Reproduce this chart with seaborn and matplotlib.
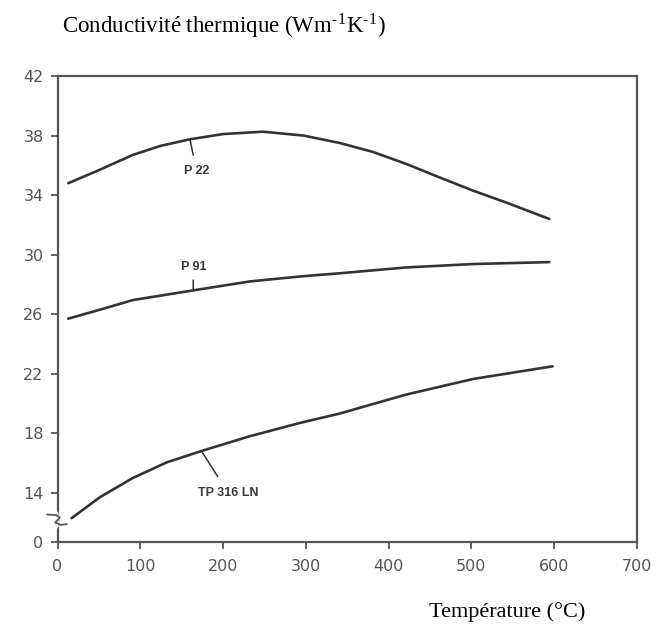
import numpy as np
import pandas as pd
import matplotlib
matplotlib.use("Agg")
import matplotlib.pyplot as plt
import matplotlib.transforms as mtransforms
import seaborn as sns

# ---- data ----
p22_T = [13, 51, 91, 124, 160, 200, 248, 297, 341, 381, 421, 461, 502, 542, 594]
p22_k = [34.8, 35.7, 36.7, 37.3, 37.75, 38.1, 38.26, 38.0, 37.5, 36.9, 36.1, 35.2, 34.3, 33.5, 32.4]

p91_T = [13, 51, 91, 164, 232, 296, 341, 421, 502, 594]
p91_k = [25.7, 26.3, 26.95, 27.6, 28.2, 28.55, 28.75, 29.14, 29.37, 29.5]

tp_T = [17, 51, 91, 132, 176, 232, 293, 341, 421, 502, 598]
tp_k = [12.3, 13.7, 15.0, 16.05, 16.85, 17.8, 18.7, 19.33, 20.6, 21.65, 22.5]

series_names = ["P 22", "P 91", "TP 316 LN"]

x_ticks = [0, 100, 200, 300, 400, 500, 600, 700]
y_ticks = [14, 18, 22, 26, 30, 34, 38, 42]
y_zero_label = "0"

df = pd.concat([
    pd.DataFrame({"T": p22_T, "k": p22_k, "mat": series_names[0]}),
    pd.DataFrame({"T": p91_T, "k": p91_k, "mat": series_names[1]}),
    pd.DataFrame({"T": tp_T, "k": tp_k, "mat": series_names[2]}),
])

# ---- layout ----
sns.set_style("white")
plt.rcParams["font.family"] = ["DejaVu Sans"]
plt.rcParams["mathtext.fontset"] = "stix"

W, H = 660, 631
fig = plt.figure(figsize=(W / 100, H / 100), dpi=100)
ax = fig.add_axes([57.5 / W, 1 - 542 / H, (637 - 57.5) / W, (542 - 76) / H])

line_col = "#333333"
axis_col = "#555555"
sns.lineplot(data=df, x="T", y="k", hue="mat", palette=[line_col] * 3,
             legend=False, ax=ax, linewidth=1.9, sort=True, estimator=None)

BREAK_POS = 10.7
ax.set_xlim(0, 700)
ax.set_ylim(BREAK_POS, 42)
ax.set_xticks(x_ticks)
ax.set_xticklabels([str(v) for v in x_ticks])
ax.set_yticks([BREAK_POS] + y_ticks)
ax.set_yticklabels([y_zero_label] + [str(v) for v in y_ticks])
ax.set_xlabel("")
ax.set_ylabel("")

for s in ax.spines.values():
    s.set_visible(True)
    s.set_color(axis_col)
    s.set_linewidth(1.6)
ax.tick_params(axis="both", which="major", bottom=True, left=True, top=False, right=False,
               direction="out", length=5, width=1.3, color=axis_col,
               labelcolor="#555555", labelsize=11.5)
ax.tick_params(axis="x", pad=7)
ax.tick_params(axis="y", pad=5)

# broken axis mark on left spine
trans = mtransforms.blended_transform_factory(ax.transAxes, ax.transData)
ax.plot([-0.003, -0.003], [11.75, 12.6], color="white", lw=4, transform=trans,
        clip_on=False, zorder=5)
ax.plot([-0.018, -0.002, 0.004, -0.004, 0.006, 0.016],
        [12.55, 12.5, 12.35, 12.0, 11.85, 11.9],
        color=axis_col, lw=1.3, transform=trans, clip_on=False, zorder=6)

# curve labels with small leader lines
lab_kw = dict(fontsize=9, color="#3a3a3a", fontweight="bold",
              ha="center", va="center", family="Liberation Sans")
ax.annotate("P 22", xy=(160, 37.75), xytext=(168, 35.6), **lab_kw,
            arrowprops=dict(arrowstyle="-", color=line_col, lw=1.1,
                            shrinkA=5, shrinkB=0))
ax.annotate("P 91", xy=(164, 27.6), xytext=(164, 29.2), **lab_kw,
            arrowprops=dict(arrowstyle="-", color=line_col, lw=1.1,
                            shrinkA=3, shrinkB=0))
ax.annotate("TP 316 LN", xy=(174, 16.8), xytext=(206, 14.0), **lab_kw,
            arrowprops=dict(arrowstyle="-", color=line_col, lw=1.1,
                            shrinkA=6, shrinkB=0))

# titles (serif, as in the document)
fig.text(62 / W, 1 - 26 / H,
         r"Conductivité thermique (Wm$^{\mathregular{\text{-}1}}$K$^{\mathregular{\text{-}1}}$)",
         family="Liberation Serif", fontsize=16.5, ha="left", va="center", color="black")
fig.text(585 / W, 1 - 612 / H, "Température (°C)", family="Liberation Serif",
         fontsize=16, ha="right", va="center", color="black")

fig.savefig("out.png", dpi=100, facecolor="white")
